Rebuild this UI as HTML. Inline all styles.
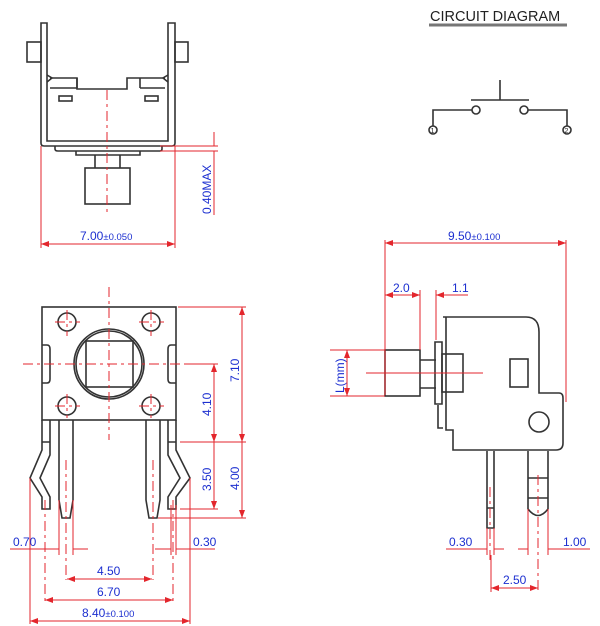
<!DOCTYPE html>
<html><head><meta charset="utf-8"><style>
html,body{margin:0;padding:0;background:#fff;}
svg{display:block;}
text{font-family:"Liberation Sans",sans-serif;}
.k{fill:none;stroke:#333;stroke-width:1.6;}
.r{fill:none;stroke:#e3262c;stroke-width:1;}
.d{fill:none;stroke:#e3262c;stroke-width:1;stroke-dasharray:10 4 3 4;}
.b{fill:#1c2fd0;font-size:12px;}
</style></head><body>
<svg width="600" height="626" viewBox="0 0 600 626" xmlns="http://www.w3.org/2000/svg">
<defs><marker id="a" markerWidth="8" markerHeight="6" refX="8" refY="3" orient="auto-start-reverse"><path d="M0,0L8,3L0,6z" fill="#e3262c"/></marker></defs>

<!-- TOP VIEW -->
<g class="k">
<path d="M41,23V143Q41,146 44,146H172Q175,146 175,143V23H168V141H47V23Z"/>
<rect x="27" y="42" width="14" height="20"/>
<rect x="175" y="42" width="13" height="20"/>
<path d="M50,78H77V89H127V78H165"/>
<path d="M50,88H77M140,88H165M77,78V88M140,78V88"/>
<path d="M47,75L52,78L47,82M168,75L163,78L168,82"/>
<rect x="59" y="96" width="13" height="5"/>
<rect x="145" y="96" width="13" height="5"/>
<path d="M55,146V149Q55,151 58,151H160Q162,151 162,149V146M76,151V155H140V151"/>
<path d="M95,155V168M120,155V168"/>
<rect x="85" y="168" width="45" height="36"/>
</g>
<line class="d" x1="107" y1="90" x2="107" y2="216"/>
<path class="r" d="M41,146V248M175,146V248M160,146H218M160,151H218"/>
<line class="r" x1="41" y1="244" x2="175" y2="244" marker-start="url(#a)" marker-end="url(#a)"/>
<path class="r" d="M214,132V146M214,151V215"/>
<text class="b" x="80" y="240">7.00<tspan font-size="9.5">±0.050</tspan></text>
<text class="b" transform="translate(211,214) rotate(-90)">0.40MAX</text>

<!-- CIRCUIT -->
<text x="430" y="21" font-size="14.5" fill="#222">CIRCUIT DIAGRAM</text>
<line x1="429" y1="25" x2="567" y2="25" stroke="#777" stroke-width="3"/>
<g class="k" stroke-width="1.2">
<path d="M500,80V100M471,100H529M472,110H433V126M528,110H567V126"/>
<circle cx="476" cy="110" r="4"/><circle cx="524" cy="110" r="4"/>
<circle cx="433" cy="130" r="4"/><circle cx="567" cy="130" r="4"/>
</g>
<text x="430.5" y="133" font-size="7" fill="#222">1</text>
<text x="564.5" y="133" font-size="7" fill="#222">2</text>

<!-- FRONT VIEW -->
<g class="k">
<rect x="42" y="307" width="134" height="113"/>
<circle cx="67" cy="322" r="9"/><circle cx="151" cy="322" r="9"/>
<circle cx="67" cy="406" r="9"/><circle cx="151" cy="406" r="9"/>
<circle cx="109" cy="364" r="35"/><circle cx="109" cy="364" r="33"/>
<rect x="86" y="341" width="47" height="46"/>
<path d="M42,345H47Q50,345 50,349V379Q50,383 47,383H42M176,345H171Q168,345 168,349V379Q168,383 171,383H176"/>
<path d="M42,420V442H50V420M42,442V450L30,478L42,497V509H50V497L40,478L50,455V442"/>
<path d="M176,420V442H168V420M176,442V450L190,478L176,497V509H168V497L180,478L168,455V442"/>
<path d="M59,420V500L62,518H70L73,500V420"/>
<path d="M146,420V500L149,518H157L160,500V420"/>
</g>
<path class="d" d="M23,364H195M109,287V440M67,310V336M55,322H80M151,310V336M139,322H164M67,394V418M55,406H80M151,394V418M139,406H164M66,460V580M153,460V580M45,500V602M173,500V602"/>
<path class="r" d="M178,307H246M185,364H218M180,442H246M180,509H218M158,518H246"/>
<line class="r" x1="242" y1="307" x2="242" y2="442" marker-start="url(#a)" marker-end="url(#a)"/>
<line class="r" x1="242" y1="442" x2="242" y2="518" marker-end="url(#a)"/>
<line class="r" x1="214" y1="364" x2="214" y2="442" marker-start="url(#a)" marker-end="url(#a)"/>
<line class="r" x1="214" y1="442" x2="214" y2="509" marker-end="url(#a)"/>
<text class="b" transform="translate(239,382) rotate(-90)">7.10</text>
<text class="b" transform="translate(211,416) rotate(-90)">4.10</text>
<text class="b" transform="translate(211,491) rotate(-90)">3.50</text>
<text class="b" transform="translate(239,490) rotate(-90)">4.00</text>
<path class="r" d="M30,478V624M190,478V624M59,500V555M73,500V555M171,505V555M176,505V555M10,549H59M73,549H88M155,549H171M176,549H215"/>
<text class="b" x="13" y="546">0.70</text>
<text class="b" x="193" y="546">0.30</text>
<line class="r" x1="67" y1="579" x2="152" y2="579" marker-start="url(#a)" marker-end="url(#a)"/>
<line class="r" x1="45" y1="600" x2="173" y2="600" marker-start="url(#a)" marker-end="url(#a)"/>
<line class="r" x1="30" y1="621" x2="190" y2="621" marker-start="url(#a)" marker-end="url(#a)"/>
<text class="b" x="97" y="575">4.50</text>
<text class="b" x="97" y="596">6.70</text>
<text class="b" x="82" y="617">8.40<tspan font-size="9.5">±0.100</tspan></text>

<!-- SIDE VIEW -->
<g class="k">
<rect x="385" y="350" width="35" height="46"/>
<path d="M420,360H436M420,388H436"/>
<path d="M435,342H442V404H435Z"/>
<rect x="442" y="354" width="21" height="38"/>
<path d="M443,317H526Q539,317 539,332V393H559Q563,393 563,398V443Q563,450 556,450H453V430H446V317"/>
<path d="M438,405V428H443"/>
<rect x="510" y="359" width="18" height="28"/>
<circle cx="539" cy="422" r="10"/>
<path d="M487,451V528H494V451M487,508H494"/>
<path d="M528,451V509Q538,522 548,509V451M528,478H548M528,498H548"/>
</g>
<path class="r" d="M366,373H483"/>
<path class="d" d="M490,487V560M538,475V592"/>
<path class="r" d="M385,240V395M566,240V402M420,290V350M436,290V340M330,350H385M330,396H385"/>
<line class="r" x1="385" y1="243" x2="566" y2="243" marker-start="url(#a)" marker-end="url(#a)"/>
<line class="r" x1="385" y1="295" x2="420" y2="295" marker-start="url(#a)" marker-end="url(#a)"/>
<line class="r" x1="436" y1="295" x2="468" y2="295" marker-start="url(#a)"/>
<line class="r" x1="347" y1="350" x2="347" y2="396" marker-start="url(#a)" marker-end="url(#a)"/>
<text class="b" x="448" y="240">9.50<tspan font-size="9.5">±0.100</tspan></text>
<text class="b" x="393" y="292">2.0</text>
<text class="b" x="452" y="292">1.1</text>
<text class="b" transform="translate(344,393) rotate(-90)">L(mm)</text>
<path class="r" d="M487,528V555M494,528V555M528,509V555M548,509V555M446,549H487M494,549H504M518,549H528M548,549H590M491,555V592"/>
<text class="b" x="449" y="546">0.30</text>
<text class="b" x="563" y="546">1.00</text>
<line class="r" x1="491" y1="588" x2="538" y2="588" marker-start="url(#a)" marker-end="url(#a)"/>
<text class="b" x="503" y="584">2.50</text>
</svg>
</body></html>
